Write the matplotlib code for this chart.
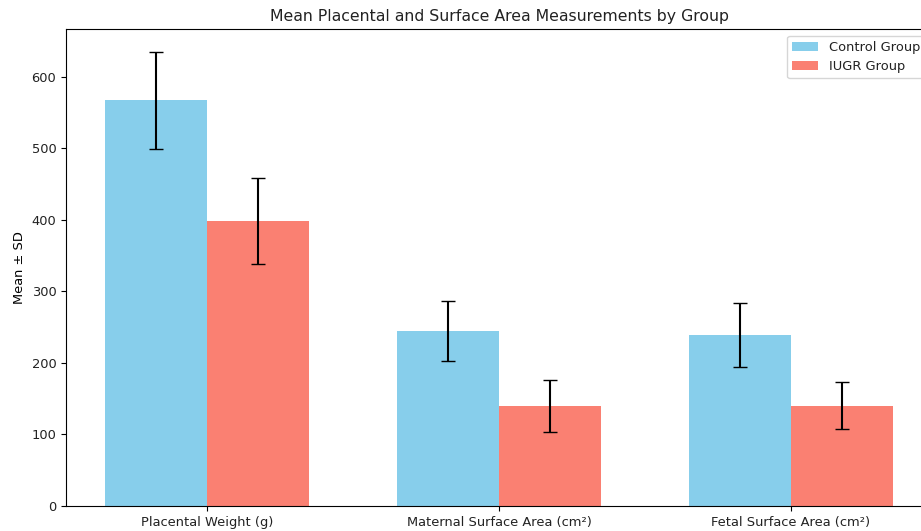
import matplotlib.pyplot as plt
import numpy as np

measures = ["Placental Weight (g)", "Maternal Surface Area (cm²)", "Fetal Surface Area (cm²)"]
control_mean = [567, 244, 239]
control_sd = [68, 42, 45]
iugr_mean = [398, 140, 140]
iugr_sd = [60, 36, 33]

plt.rcParams["font.size"] = 9.4
plt.rcParams["text.color"] = "#222222"
plt.rcParams["xtick.labelcolor"] = "#222222"
plt.rcParams["ytick.labelcolor"] = "#222222"

x = np.arange(len(measures))
width = 0.35

fig = plt.figure(figsize=(9.21, 5.31), dpi=100)
# axes runs past the right edge, as in the cropped reference
ax = fig.add_axes([66 / 921, 25 / 531, 866 / 921, 477 / 531])
ax.bar(x - width / 2, control_mean, width, yerr=control_sd, capsize=5, color="skyblue", label="Control Group")
ax.bar(x + width / 2, iugr_mean, width, yerr=iugr_sd, capsize=5, color="salmon", label="IUGR Group")
ax.set_xticks(x)
ax.set_xticklabels(measures)
ax.set_ylabel("Mean ± SD")
ax.set_title("Mean Placental and Surface Area Measurements by Group", fontsize=11.3)
ax.legend(loc="upper right")
fig.savefig("out.png", dpi=100)
